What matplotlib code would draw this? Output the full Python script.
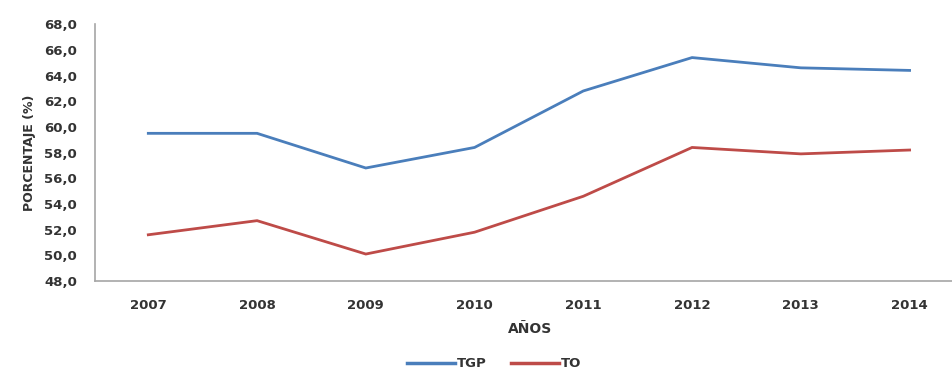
import matplotlib
matplotlib.use("Agg")
import matplotlib.pyplot as plt
from matplotlib.lines import Line2D

years = ["2007", "2008", "2009", "2010", "2011", "2012", "2013", "2014"]
tgp = [59.5, 59.5, 56.8, 58.4, 62.8, 65.4, 64.6, 64.4]
to = [51.6, 52.7, 50.1, 51.8, 54.6, 58.4, 57.9, 58.2]
y_ticks = [48, 50, 52, 54, 56, 58, 60, 62, 64, 66, 68]

plt.rcParams['font.family'] = ['DejaVu Sans']
plt.rcParams['font.weight'] = 'bold'

BLUE = "#4A7EBB"
RED = "#BE4B48"
TEXT = "#333333"

fig = plt.figure(figsize=(9.52, 3.72), dpi=100)
ax = fig.add_axes([0.0998, 0.2446, 0.9002, 0.6904])

x = list(range(len(years)))
ax.plot(x, tgp, color=BLUE, lw=2.0, solid_joinstyle='miter')
ax.plot(x, to, color=RED, lw=2.0, solid_joinstyle='miter')

ax.set_xlim(-0.49, 7.39)
ax.set_ylim(48, 68)
ax.set_yticks(y_ticks)
ax.set_yticklabels([f"{v:.1f}".replace(".", ",") for v in y_ticks],
                   fontsize=9.5, fontweight='bold', color=TEXT)
ax.set_xticks(x)
ax.set_xticklabels(years, fontsize=9.5, fontweight='bold', color=TEXT)
ax.tick_params(axis='both', length=0)
ax.tick_params(axis='y', pad=13)
ax.tick_params(axis='x', pad=13)

for s in ("top", "right"):
    ax.spines[s].set_visible(False)
for s in ("left", "bottom"):
    ax.spines[s].set_color("#A6A6A6")
    ax.spines[s].set_linewidth(1.2)

ax.set_ylabel("PORCENTAJE (%)", fontsize=9, fontweight='bold', color=TEXT, labelpad=6)
fig.text(530 / 952, 1 - 329 / 372, "AÑOS", ha='center', va='center',
         fontsize=10, fontweight='bold', color=TEXT)

handles = [Line2D([0], [0], color=BLUE, lw=2.5), Line2D([0], [0], color=RED, lw=2.5)]
fig.legend(handles, ["TGP", "TO"], loc='center', bbox_to_anchor=(0.519, 0.022),
           ncol=2, frameon=False, handlelength=3.6, handletextpad=0.15,
           columnspacing=1.9, labelcolor=TEXT, prop={'weight': 'bold', 'size': 9.5})

fig.savefig("out.png", dpi=100)
